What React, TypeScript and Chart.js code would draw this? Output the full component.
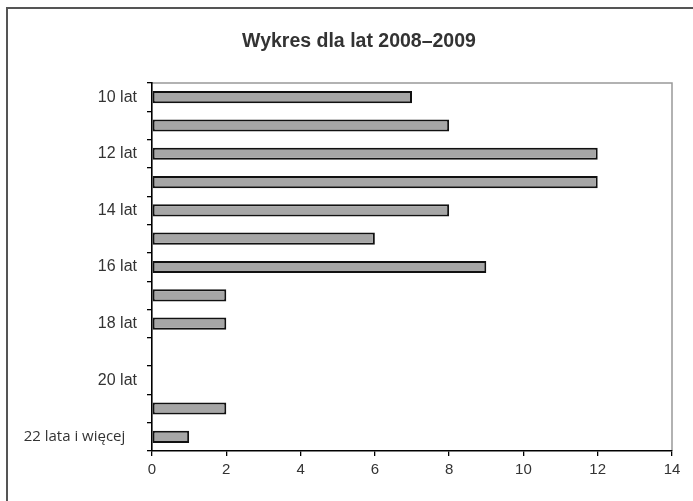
import React, { useEffect, useRef } from "react";
import { Chart, registerables } from "chart.js";

Chart.register(...registerables);

const chartTitle = "Wykres dla lat 2008–2009";
const categories = [
  "10 lat", "11 lat", "12 lat", "13 lat", "14 lat", "15 lat", "16 lat",
  "17 lat", "18 lat", "19 lat", "20 lat", "21 lat", "22 lata i więcej",
];
const values = [7, 8, 12, 12, 8, 6, 9, 2, 2, 0, 0, 2, 1];
const shownLabelIndexes = [0, 2, 4, 6, 8, 10, 12];
const xMin = 0;
const xMax = 14;
const xStep = 2;

const decorPlugin = {
  id: "decor",
  beforeDraw(chart: any) {
    const { ctx, chartArea } = chart;
    ctx.save();
    ctx.fillStyle = "#ffffff";
    ctx.fillRect(0, 0, chart.width, chart.height);
    ctx.strokeStyle = "#555555";
    ctx.lineWidth = 2;
    ctx.beginPath();
    ctx.moveTo(7, chart.height);
    ctx.lineTo(7, 8);
    ctx.lineTo(chart.width, 8);
    ctx.stroke();
    ctx.strokeStyle = "#999999";
    ctx.lineWidth = 1.5;
    ctx.beginPath();
    ctx.moveTo(chartArea.left, chartArea.top);
    ctx.lineTo(chartArea.right, chartArea.top);
    ctx.lineTo(chartArea.right, chartArea.bottom);
    ctx.stroke();
    ctx.restore();
  },
  afterDraw(chart: any) {
    const { ctx } = chart;
    ctx.save();
    ctx.font = 'bold 19.5px "Liberation Sans", Arial, sans-serif';
    ctx.fillStyle = "#333333";
    ctx.textAlign = "center";
    ctx.textBaseline = "alphabetic";
    ctx.fillText(chartTitle, 359, 47);
    ctx.restore();
  },
};

export default function App() {
  const ref = useRef<HTMLCanvasElement | null>(null);
  useEffect(() => {
    if (!ref.current) return;
    const last = categories.length - 1;
    const chart = new Chart(ref.current, {
      type: "bar",
      data: {
        labels: categories,
        datasets: [
          {
            data: values,
            backgroundColor: "#a6a6a6",
            borderColor: "#111111",
            borderWidth: (c: any) => (c.raw === 0 ? 0 : 2),
            borderSkipped: false,
            barPercentage: 0.43,
            categoryPercentage: 1,
          },
        ],
      },
      options: {
        indexAxis: "y",
        animation: false,
        responsive: false,
        devicePixelRatio: 1,
        layout: { padding: { top: 83, right: 21, bottom: 0, left: 0 } },
        plugins: {
          legend: { display: false },
          title: { display: false },
          tooltip: { enabled: false },
        },
        scales: {
          x: {
            min: xMin,
            max: xMax,
            ticks: {
              stepSize: xStep,
              padding: 5,
              color: "#333333",
              font: { family: '"Liberation Sans", Arial, sans-serif', size: 15 },
            },
            grid: {
              drawOnChartArea: false,
              drawTicks: true,
              tickLength: 5,
              color: "#000000",
              lineWidth: 1.3,
            },
            border: { color: "#000000", width: 1.6 },
            afterFit: (s: any) => {
              s.height = 50;
            },
          },
          y: {
            type: "category",
            offset: true,
            ticks: {
              autoSkip: false,
              padding: 10,
              color: "#333333",
              callback: (_v: any, i: number) =>
                shownLabelIndexes.includes(i)
                  ? i === last
                    ? categories[i] + "   "
                    : categories[i]
                  : "",
              font: (c: any) =>
                c.index === last
                  ? { family: '"Open Sans", sans-serif', size: 15 }
                  : { family: '"Liberation Sans", Arial, sans-serif', size: 16 },
            },
            grid: {
              offset: true,
              drawOnChartArea: false,
              drawTicks: true,
              tickLength: 5,
              color: "#000000",
              lineWidth: 1.3,
            },
            border: { color: "#000000", width: 1.6 },
            afterFit: (s: any) => {
              s.width = 152;
            },
          },
        },
      },
      plugins: [decorPlugin],
    } as any);
    return () => chart.destroy();
  }, []);
  return (
    <div style={{ position: "fixed", left: 0, top: 0, width: 693, height: 501 }}>
      <canvas ref={ref} width={693} height={501} />
    </div>
  );
}
